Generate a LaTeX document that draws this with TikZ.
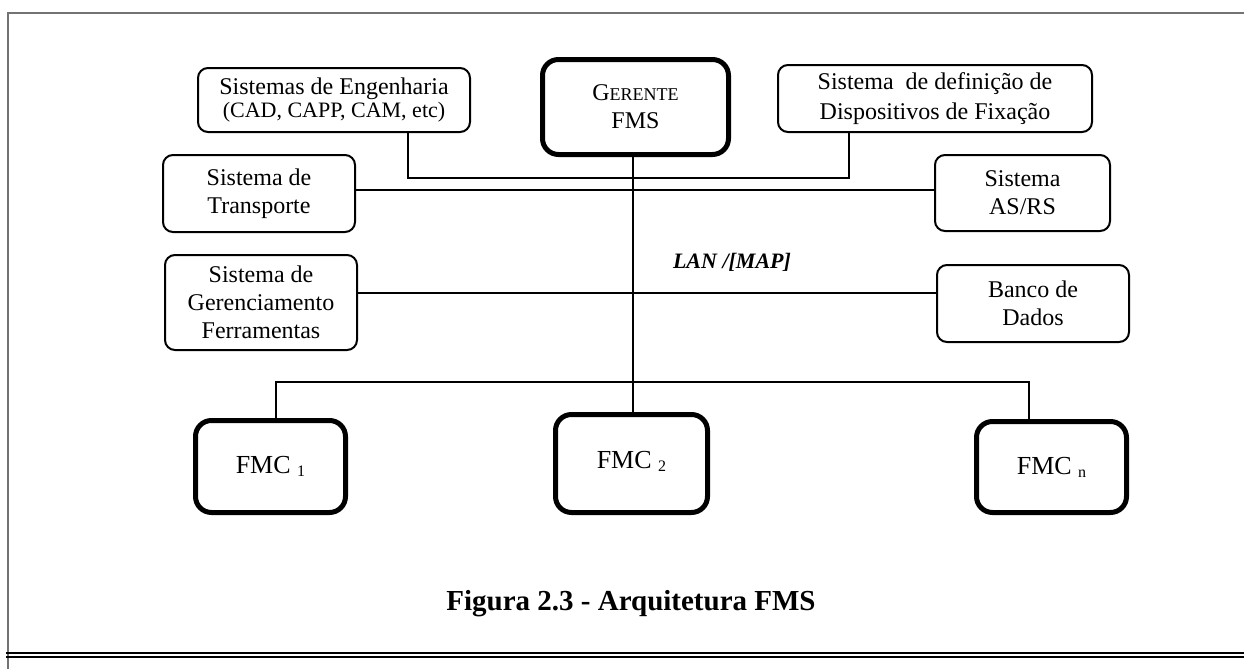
\documentclass[tikz,border=0pt]{standalone}
\usepackage{fontspec}
\setmainfont{Liberation Serif}
\begin{document}
\begin{tikzpicture}[x=0.5pt,y=-0.5pt,
  sysbox/.style={draw=black,line width=1pt,rounded corners=5pt,inner sep=0pt,
    align=center,font=\fontsize{12}{14}\selectfont},
  mainbox/.style={draw=black,line width=2.5pt,rounded corners=8pt,inner sep=0pt,
    align=center,font=\fontsize{12}{14}\selectfont},
  cellbox/.style={draw=black,line width=2.5pt,rounded corners=8pt,inner sep=0pt,
    align=center,font=\fontsize{13}{15}\selectfont},
  link/.style={draw=black,line width=0.9pt},
  frameline/.style={draw=black!55,line width=1pt}]
\useasboundingbox (0,0) rectangle (1244,669);

% page frame
\draw[frameline] (8,669) -- (8,13) -- (1244,13);
\draw[line width=0.7pt] (6,653) -- (1244,653);
\draw[line width=0.7pt] (6,657) -- (1244,657);

% manager and subsystems
\node[mainbox,minimum width=93pt,minimum height=47.5pt] (ger) at (635.5,107)
  {G{\fontsize{9}{14}\selectfont ERENTE}\\FMS};
\node[sysbox,minimum width=136pt,minimum height=32pt,
  font=\fontsize{12}{9.5}\selectfont] (eng) at (334,100)
  {Sistemas de Engenharia\\{\fontsize{11}{9.5}\selectfont (CAD, CAPP, CAM, etc)}};
\node[sysbox,minimum width=157pt,minimum height=33.5pt,
  font=\fontsize{12}{15}\selectfont] (disp) at (935,98.5)
  {Sistema\ \ de definição de\\Dispositivos de Fixação};
\node[sysbox,minimum width=96pt,minimum height=38.5pt] (trans) at (259,193.5)
  {Sistema de\\Transporte};
\node[sysbox,minimum width=87.5pt,minimum height=38pt] (asrs) at (1022.5,193)
  {Sistema\\AS/RS};
\node[sysbox,minimum width=96pt,minimum height=47.5pt] (gfer) at (261,302.5)
  {Sistema de\\Gerenciamento\\Ferramentas};
\node[sysbox,minimum width=96pt,minimum height=38.5pt] (banco) at (1033,303.5)
  {Banco de\\Dados};

% manufacturing cells
\node[cellbox,minimum width=75pt,minimum height=46pt] (fmc1) at (270.5,466.5)
  {FMC \raisebox{-1.5pt}{\fontsize{8}{9}\selectfont 1}};
\node[cellbox,minimum width=76pt,minimum height=49pt] (fmc2) at (631.5,463.5)
  {\raisebox{4pt}{FMC \raisebox{-1.5pt}{\fontsize{8}{9}\selectfont 2}}};
\node[cellbox,minimum width=75pt,minimum height=45.5pt] (fmcn) at (1051.5,467)
  {FMC \raisebox{-1.5pt}{\fontsize{8}{9}\selectfont n}};

% network label and caption
\node[font=\fontsize{11}{13}\selectfont\bfseries\itshape] (lan) at (732,262) {LAN /[MAP]};
\node[font=\fontsize{14.5}{17}\selectfont\bfseries] (cap) at (631,604) {Figura 2.3 - Arquitetura FMS};

% network connections
\coordinate (b1) at (408,178);
\coordinate (b2) at (849,178);
\coordinate (ty) at (633,190);
\coordinate (gy) at (633,293);
\coordinate (vx) at (633,0);
\coordinate (f1) at (276,382);
\coordinate (fn) at (1029,382);
\draw[link] (eng.south -| b1) -- (b1) -- (b2) -- (disp.south -| b2);
\draw[link] (trans.east |- ty) -- (asrs.west |- ty);
\draw[link] (gfer.east |- gy) -- (banco.west |- gy);
\draw[link] (ger.south -| vx) -- (fmc2.north -| vx);
\draw[link] (fmc1.north -| f1) -- (f1) -- (fn) -- (fmcn.north -| fn);
\end{tikzpicture}
\end{document}
